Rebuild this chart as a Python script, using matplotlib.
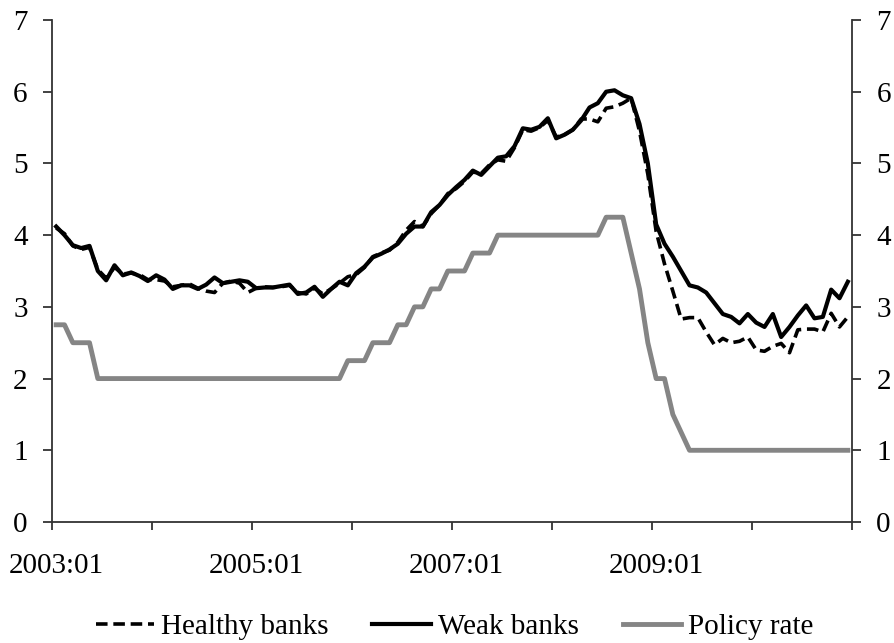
import numpy as np
import matplotlib
matplotlib.use("Agg")
from matplotlib import pyplot as plt

# monthly observations, 2003:01 - 2010:12
months = [f"{y}:{m:02d}" for y in range(2003, 2011) for m in range(1, 13)]

healthy = [
    4.10, 4.02, 3.85, 3.80, 3.83, 3.52, 3.40, 3.55, 3.46, 3.47, 3.45, 3.38,  # 2003
    3.38, 3.36, 3.28, 3.30, 3.32, 3.26, 3.22, 3.20, 3.33, 3.36, 3.33, 3.20,  # 2004
    3.26, 3.28, 3.27, 3.28, 3.30, 3.20, 3.18, 3.26, 3.18, 3.25, 3.33, 3.42,  # 2005
    3.45, 3.55, 3.70, 3.75, 3.79, 3.90, 4.07, 4.19, 4.12, 4.30, 4.42, 4.58,  # 2006
    4.65, 4.75, 4.88, 4.86, 4.98, 5.05, 5.03, 5.22, 5.47, 5.45, 5.50, 5.60,  # 2007
    5.37, 5.40, 5.47, 5.62, 5.62, 5.58, 5.77, 5.79, 5.84, 5.91, 5.45, 4.85,  # 2008
    4.05, 3.60, 3.22, 2.83, 2.85, 2.85, 2.65, 2.47, 2.56, 2.50, 2.52, 2.58,  # 2009
    2.40, 2.38, 2.45, 2.49, 2.36, 2.68, 2.69, 2.69, 2.65, 2.91, 2.72, 2.86,  # 2010
]

weak = [
    4.12, 4.00, 3.86, 3.82, 3.85, 3.50, 3.37, 3.58, 3.44, 3.48, 3.43, 3.36,
    3.44, 3.38, 3.25, 3.30, 3.30, 3.25, 3.31, 3.41, 3.33, 3.35, 3.37, 3.35,
    3.26, 3.27, 3.27, 3.29, 3.31, 3.18, 3.20, 3.28, 3.14, 3.25, 3.35, 3.30,
    3.47, 3.56, 3.69, 3.74, 3.80, 3.88, 4.02, 4.12, 4.12, 4.32, 4.42, 4.56,
    4.67, 4.77, 4.90, 4.84, 4.96, 5.08, 5.10, 5.24, 5.49, 5.47, 5.51, 5.63,
    5.35, 5.40, 5.47, 5.60, 5.78, 5.84, 6.00, 6.02, 5.95, 5.91, 5.55, 5.00,
    4.15, 3.88, 3.70, 3.50, 3.30, 3.27, 3.20, 3.05, 2.90, 2.86, 2.77, 2.90,
    2.78, 2.72, 2.90, 2.58, 2.72, 2.88, 3.02, 2.84, 2.86, 3.24, 3.12, 3.35,
]

policy = ([2.75] * 2 + [2.5] * 3 + [2.0] * 30 + [2.25] * 3 + [2.5] * 3
          + [2.75] * 2 + [3.0] * 2 + [3.25] * 2 + [3.5] * 3 + [3.75] * 3
          + [4.0] * 13 + [4.25] * 3 + [3.75, 3.25, 2.5] + [2.0] * 2
          + [1.5, 1.25] + [1.0] * 20)

labels = ["Healthy banks", "Weak banks", "Policy rate"]
label_every = 24

plt.rcParams["font.family"] = ["Liberation Serif", "DejaVu Serif"]
plt.rcParams["font.size"] = 21

fig = plt.figure(figsize=(8.95, 6.43), dpi=100)
ax = fig.add_axes([52 / 895, 1 - 522 / 643, 800 / 895, 502 / 643])

# category style axis: each month sits in the middle of its slot
x = np.arange(len(months)) + 0.5
ax.plot(x, policy, color="#858585", lw=3.5, label=labels[2], zorder=2)
ax.plot(x, healthy, color="black", lw=2.6, dashes=[3.2, 1.6], label=labels[0], zorder=3)
ax.plot(x, weak, color="black", lw=3.0, label=labels[1], zorder=4)

ax.set_xlim(0, len(months))
ax.set_ylim(0, 7)
ax.set_yticks(range(8))

ax.set_xticks(np.arange(0, len(months) + 1, 12))
ax.set_xticklabels([])
ax.set_xticks(x[::label_every], minor=True)
ax.set_xticklabels(months[::label_every], minor=True)
ax.tick_params(axis="x", which="major", direction="out", length=6, width=1.3, color="#333333")
ax.tick_params(axis="x", which="minor", length=0, pad=22)
ax.tick_params(axis="y", direction="out", length=6.5, width=1.3, color="#333333",
               left=True, right=True, labelleft=True, labelright=True, pad=11)

ax.spines["top"].set_visible(False)
for side in ["left", "right", "bottom"]:
    ax.spines[side].set_linewidth(1.3)
    ax.spines[side].set_color("#333333")

h, l = ax.get_legend_handles_labels()
order = [l.index(name) for name in labels]
fig.legend([h[i] for i in order], [l[i] for i in order], loc="center",
           bbox_to_anchor=(0.508, 0.025), ncol=3, frameon=False,
           handlelength=2.0, handletextpad=0.25, columnspacing=1.5)

fig.savefig("out.png", dpi=100)
